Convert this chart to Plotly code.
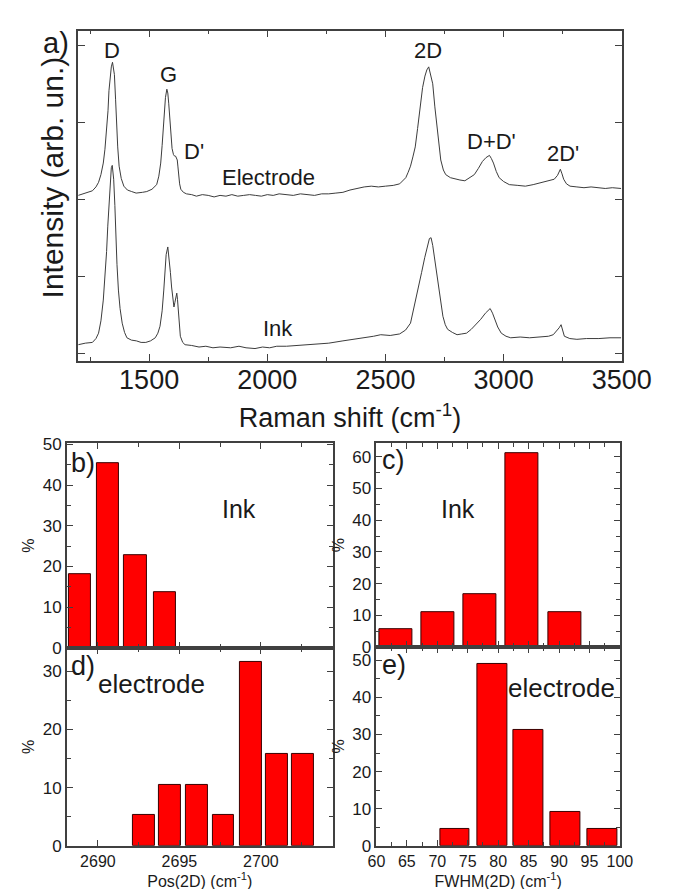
import plotly.graph_objects as go

# ---------------- data: Raman spectra ----------------
elec_shift = [1200, 1220, 1240, 1260, 1275, 1286, 1296, 1306, 1313, 1320, 1326, 1330, 1335, 1340, 1345, 1349,
              1353, 1358, 1362, 1367, 1373, 1382, 1393, 1408, 1426, 1445, 1472, 1490, 1512, 1522, 1532, 1541,
              1549, 1555, 1561, 1565, 1569, 1575, 1579, 1583, 1588, 1592, 1597, 1603, 1608, 1612, 1616, 1619,
              1622, 1625, 1629, 1634, 1645, 1658, 1680, 1700, 1725, 1750, 1775, 1800, 1825, 1850, 1875, 1900,
              1925, 1950, 1975, 2000, 2025, 2050, 2081, 2110, 2140, 2170, 2200, 2230, 2260, 2290, 2320, 2350,
              2380, 2410, 2440, 2470, 2500, 2533, 2560, 2575, 2586, 2596, 2606, 2616, 2626, 2636, 2646, 2657,
              2667, 2675, 2683, 2691, 2700, 2709, 2718, 2726, 2734, 2745, 2755, 2775, 2795, 2815, 2836, 2856,
              2876, 2893, 2910, 2925, 2940, 2948, 2957, 2969, 2981, 3000, 3024, 3060, 3092, 3125, 3159, 3190,
              3214, 3228, 3240, 3247, 3254, 3266, 3281, 3310, 3340, 3370, 3400, 3430, 3460, 3497]
elec_int = [2.05, 2.07, 2.08, 2.11, 2.16, 2.22, 2.32, 2.47, 2.65, 2.90, 3.15, 3.41, 3.60, 3.72, 3.78, 3.72,
            3.62, 3.30, 2.98, 2.68, 2.43, 2.27, 2.17, 2.12, 2.10, 2.08, 2.09, 2.10, 2.13, 2.16, 2.19, 2.30,
            2.47, 2.70, 2.98, 3.18, 3.32, 3.43, 3.38, 3.24, 3.02, 2.81, 2.66, 2.58, 2.56, 2.56, 2.54, 2.51,
            2.42, 2.30, 2.20, 2.13, 2.09, 2.07, 2.06, 2.04, 2.06, 2.05, 2.03, 2.05, 2.04, 2.06, 2.04, 2.05,
            2.06, 2.05, 2.04, 2.06, 2.05, 2.07, 2.06, 2.05, 2.07, 2.06, 2.05, 2.07, 2.07, 2.08, 2.09, 2.12,
            2.14, 2.16, 2.17, 2.16, 2.17, 2.18, 2.20, 2.24, 2.28, 2.35, 2.43, 2.55, 2.68, 2.92, 3.19, 3.45,
            3.60, 3.68, 3.72, 3.62, 3.50, 3.20, 2.94, 2.68, 2.51, 2.38, 2.32, 2.28, 2.26, 2.25, 2.24, 2.28,
            2.32, 2.40, 2.49, 2.54, 2.57, 2.53, 2.47, 2.36, 2.28, 2.23, 2.19, 2.18, 2.17, 2.19, 2.22, 2.24,
            2.26, 2.31, 2.39, 2.33, 2.26, 2.20, 2.17, 2.16, 2.15, 2.16, 2.15, 2.14, 2.15, 2.14]

ink_shift = [1200, 1230, 1260, 1275, 1286, 1296, 1306, 1313, 1320, 1325, 1330, 1335, 1340, 1344, 1347, 1350,
             1355, 1359, 1364, 1370, 1377, 1386, 1396, 1406, 1425, 1446, 1466, 1486, 1506, 1526, 1537, 1546,
             1555, 1562, 1568, 1572, 1579, 1585, 1590, 1595, 1600, 1605, 1609, 1613, 1617, 1620, 1623, 1627,
             1632, 1642, 1652, 1680, 1711, 1740, 1770, 1800, 1845, 1880, 1910, 1948, 1980, 2010, 2040, 2081,
             2120, 2160, 2214, 2260, 2320, 2370, 2414, 2450, 2480, 2520, 2560, 2585, 2606, 2620, 2639, 2653,
             2666, 2678, 2686, 2693, 2700, 2707, 2713, 2723, 2733, 2743, 2753, 2763, 2783, 2803, 2823, 2843,
             2863, 2883, 2903, 2923, 2943, 2953, 2963, 2975, 2990, 3010, 3030, 3070, 3110, 3150, 3190, 3210,
             3223, 3235, 3243, 3250, 3257, 3280, 3310, 3350, 3403, 3450, 3497]
ink_int = [0.11, 0.13, 0.14, 0.19, 0.26, 0.42, 0.69, 0.98, 1.32, 1.65, 1.96, 2.22, 2.41, 2.44, 2.38, 2.26,
           1.92, 1.54, 1.15, 0.82, 0.58, 0.39, 0.27, 0.20, 0.17, 0.16, 0.14, 0.14, 0.16, 0.20, 0.26, 0.35,
           0.55, 0.82, 1.08, 1.28, 1.38, 1.24, 1.05, 0.86, 0.70, 0.60, 0.66, 0.74, 0.78, 0.70, 0.58, 0.40,
           0.22, 0.14, 0.11, 0.10, 0.08, 0.09, 0.07, 0.08, 0.07, 0.09, 0.07, 0.06, 0.08, 0.07, 0.09, 0.09,
           0.10, 0.11, 0.12, 0.13, 0.16, 0.18, 0.20, 0.22, 0.24, 0.23, 0.25, 0.30, 0.39, 0.58, 0.82, 1.05,
           1.24, 1.40, 1.49, 1.50, 1.40, 1.25, 1.11, 0.90, 0.65, 0.48, 0.37, 0.31, 0.27, 0.24, 0.25, 0.26,
           0.31, 0.37, 0.44, 0.52, 0.58, 0.52, 0.43, 0.34, 0.26, 0.22, 0.20, 0.21, 0.20, 0.21, 0.22, 0.24,
           0.28, 0.33, 0.37, 0.30, 0.22, 0.19, 0.18, 0.19, 0.19, 0.20, 0.20]

# ---------------- data: histograms ----------------
pos_ink_bins = [2688.9, 2690.6, 2692.3, 2694.1]
pos_ink_pct = [18.2, 45.5, 22.7, 13.6]
pos_elec_bins = [2692.8, 2694.4, 2696.1, 2697.7, 2699.4, 2701.0, 2702.6]
pos_elec_pct = [5.3, 10.5, 10.5, 5.3, 31.6, 15.8, 15.8]
fwhm_ink_bins = [63.2, 70.1, 77.0, 83.9, 90.9]
fwhm_ink_pct = [5.5, 11.0, 16.6, 61.0, 11.0]
fwhm_elec_bins = [72.9, 79.0, 85.0, 91.1, 97.1]
fwhm_elec_pct = [4.6, 48.9, 31.1, 9.0, 4.6]

peak_labels = ["D", "G", "D'", "2D", "D+D'", "2D'"]

# ---------------- layout helpers ----------------
W, H = 673, 889
def fx(x): return x / W
def fy(y): return 1 - y / H

FONT = "Liberation Sans, Arial, sans-serif"
LINE = "#3c3c3c"
TXT = "#1a1a1a"

fig = go.Figure()
fig.add_trace(go.Scatter(x=elec_shift, y=elec_int, mode="lines",
                         line=dict(color=LINE, width=1), xaxis="x", yaxis="y", showlegend=False))
fig.add_trace(go.Scatter(x=ink_shift, y=ink_int, mode="lines",
                         line=dict(color=LINE, width=1), xaxis="x", yaxis="y", showlegend=False))

bar_line = dict(color="#3a0000", width=1)
fig.add_trace(go.Bar(x=pos_ink_bins, y=pos_ink_pct, width=1.36, marker=dict(color="#ff0000", line=bar_line),
                     xaxis="x2", yaxis="y2", showlegend=False))
fig.add_trace(go.Bar(x=pos_elec_bins, y=pos_elec_pct, width=1.34, marker=dict(color="#ff0000", line=bar_line),
                     xaxis="x3", yaxis="y3", showlegend=False))
fig.add_trace(go.Bar(x=fwhm_ink_bins, y=fwhm_ink_pct, width=5.45, marker=dict(color="#ff0000", line=bar_line),
                     xaxis="x4", yaxis="y4", showlegend=False))
fig.add_trace(go.Bar(x=fwhm_elec_bins, y=fwhm_elec_pct, width=4.9, marker=dict(color="#ff0000", line=bar_line),
                     xaxis="x5", yaxis="y5", showlegend=False))

def ax(domain, rng, dtick, minor, anchor, showlabels=True, fs=17, title=None, tsize=16, standoff=4,
       ticklen=6, lstand=0):
    d = dict(domain=domain, range=rng, dtick=dtick, tick0=0, anchor=anchor,
             showline=True, linecolor="#404040", linewidth=1.5, mirror="ticks",
             ticks="inside", ticklen=ticklen, tickwidth=1, tickcolor="#404040",
             showgrid=False, zeroline=False, showticklabels=showlabels,
             ticklabelstandoff=lstand,
             tickfont=dict(family=FONT, size=fs, color=TXT))
    if minor:
        d["minor"] = dict(dtick=minor, ticks="inside", ticklen=ticklen // 2 + 1, tickwidth=1, tickcolor="#404040")
    if title is not None:
        d["title"] = dict(text=title, font=dict(family=FONT, size=tsize, color=TXT), standoff=standoff)
    return d

pos_range = [2688.1, 2704.4]
fw_range = [60, 100]

fig.update_layout(
    width=W, height=H, margin=dict(l=0, r=0, t=0, b=0),
    paper_bgcolor="white", plot_bgcolor="white",
    xaxis=ax([fx(65), fx(642)], [1200, 3500], 500, 250, "y", fs=27,
             title="Raman shift (cm<sup>-1</sup>)", tsize=27, standoff=14, ticklen=7, lstand=-6),
    yaxis=ax([fy(352), fy(15)], [-0.10, 4.19], 1, None, "x", showlabels=False, ticklen=7),
    xaxis2=ax([fx(53), fx(335)], pos_range, 5, 2.5, "y2", showlabels=False),
    yaxis2=ax([fy(645), fy(436)], [0, 50.3], 10, 5, "x2", title="%", standoff=4),
    xaxis3=ax([fx(53), fx(335)], pos_range, 5, 2.5, "y3", fs=16,
              title="Pos(2D) (cm<sup>-1</sup>)", standoff=2),
    yaxis3=ax([fy(847), fy(645)], [0, 34], 10, 5, "x3", title="%", standoff=4),
    xaxis4=ax([fx(381.5), fx(640)], fw_range, 5, 2.5, "y4", showlabels=False),
    yaxis4=ax([fy(644), fy(436)], [0, 64.3], 10, 5, "x4", title="%", standoff=4),
    xaxis5=ax([fx(381.5), fx(640)], fw_range, 5, 2.5, "y5", fs=16,
              title="FWHM(2D) (cm<sup>-1</sup>)", standoff=2),
    yaxis5=ax([fy(847), fy(644)], [0, 53.6], 10, 5, "x5", title="%", standoff=4),
    bargap=0,
)

def note(text, x, y, size, angle=0):
    fig.add_annotation(text=text, x=fx(x), y=fy(y), xref="paper", yref="paper",
                       showarrow=False, textangle=angle, xanchor="center", yanchor="middle",
                       font=dict(family=FONT, size=size, color=TXT))

# top panel texts
note("Intensity (arb. un.)", 38, 165, 30, angle=-90)
note("a)", 41, 28, 29)
peak_xy = [(101, 35), (161, 60), (188, 138), (436, 35), (504, 128), (580, 140)]
for lab, (px_, py_) in zip(peak_labels, peak_xy):
    note(lab, px_, py_, 22)
note("Electrode", 267, 165, 22)
note("Ink", 277, 319, 22)

# histogram texts
note("b)", 70, 456, 27)
note("Ink", 236, 503, 25)
note("c)", 400, 453, 27)
note("Ink", 468, 503, 25)
note("d)", 70, 663, 27)
note("electrode", 143, 682, 26)
note("e)", 400, 662, 27)
note("electrode", 578, 686, 26)

fig.write_html("out.html")
